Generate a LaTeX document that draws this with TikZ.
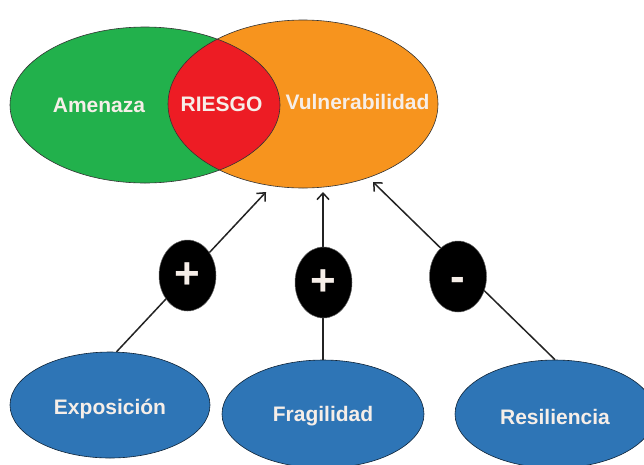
\documentclass[tikz,border=0pt]{standalone}
\usepackage{fontspec}
\setmainfont{Liberation Sans}
\usetikzlibrary{shapes.geometric,arrows.meta}
\definecolor{cgreen}{RGB}{34,177,76}
\definecolor{corange}{RGB}{247,148,30}
\definecolor{cred}{RGB}{237,28,36}
\definecolor{cblue}{RGB}{46,117,182}
\definecolor{ctext}{RGB}{246,238,232}
\definecolor{cline}{RGB}{35,35,35}
\tikzset{
  venn/.style={ellipse, inner sep=0pt, draw=black!80, line width=0.6pt},
  bluebox/.style={ellipse, inner sep=0pt, fill=cblue, draw=black!70!cblue, line width=0.6pt, minimum width=200pt, minimum height=106pt},
  signbox/.style={ellipse, inner sep=0pt, fill=black, draw=black!60, line width=0.5pt, minimum width=57pt, minimum height=71pt},
  lbl/.style={text=ctext, font=\fontsize{21}{24}\selectfont\bfseries, anchor=base, inner sep=0pt},
  sign/.style={text=ctext, font=\fontsize{44}{44}\selectfont\bfseries, inner sep=0pt},
  conn/.style={draw=cline, line width=1.5pt},
  arr/.style={conn, -{Straight Barb[length=6.5pt,width=12pt,line width=1.5pt]}},
}
\begin{document}
\begin{tikzpicture}[x=1pt,y=-1pt]
\useasboundingbox (0,0) rectangle (644,464);
\clip (0,0) rectangle (644,464);
% Venn diagram
\node[venn, draw=none, fill=cgreen, minimum width=270pt, minimum height=156pt] (amen) at (145,105) {};
\node[venn, draw=none, fill=corange, minimum width=270pt, minimum height=168pt] (vuln) at (303,104) {};
\begin{scope}
  \clip (145,105) ellipse [x radius=135pt, y radius=78pt];
  \fill[cred] (303,104) ellipse [x radius=135pt, y radius=84pt];
\end{scope}
\node[venn, minimum width=270pt, minimum height=156pt] (amenO) at (145,105) {};
\node[venn, minimum width=270pt, minimum height=168pt] (vulnO) at (303,104) {};
\node[lbl] (tamen) at (99,112) {Amenaza};
\node[lbl] (triesgo) at (221.5,111) {RIESGO};
\node[lbl] (tvuln) at (357.5,109) {Vulnerabilidad};
% factors
\node[bluebox] (expo) at (110,405) {};
\node[bluebox, minimum width=202pt, minimum height=108pt] (frag) at (323,414) {};
\node[bluebox, minimum height=108pt] (resi) at (555,414) {};
\node[lbl] (texpo) at (110,414) {Exposición};
\node[lbl] (tfrag) at (323,421) {Fragilidad};
\node[lbl] (tresi) at (555,424) {Resiliencia};
% arrow targets
\coordinate (tip1) at (266,192);
\coordinate (tip2) at (323,192);
\coordinate (tip3) at (373,182);
\draw[arr] (expo.83) -- (tip1);
\draw[arr] (frag.north) -- (tip2);
\draw[arr] (resi.north) -- (tip3);
% signs
\node[signbox] (s1) at (187.5,275.5) {};
\node[signbox] (s2) at (323.5,282.5) {};
\node[signbox] (s3) at (458,276.5) {};
\node[sign] (p1) at (187.5,275.5) {+};
\node[sign] (p2) at (323.5,282.5) {+};
\node[sign] (p3) at (458,284) {-};
\end{tikzpicture}
\end{document}
